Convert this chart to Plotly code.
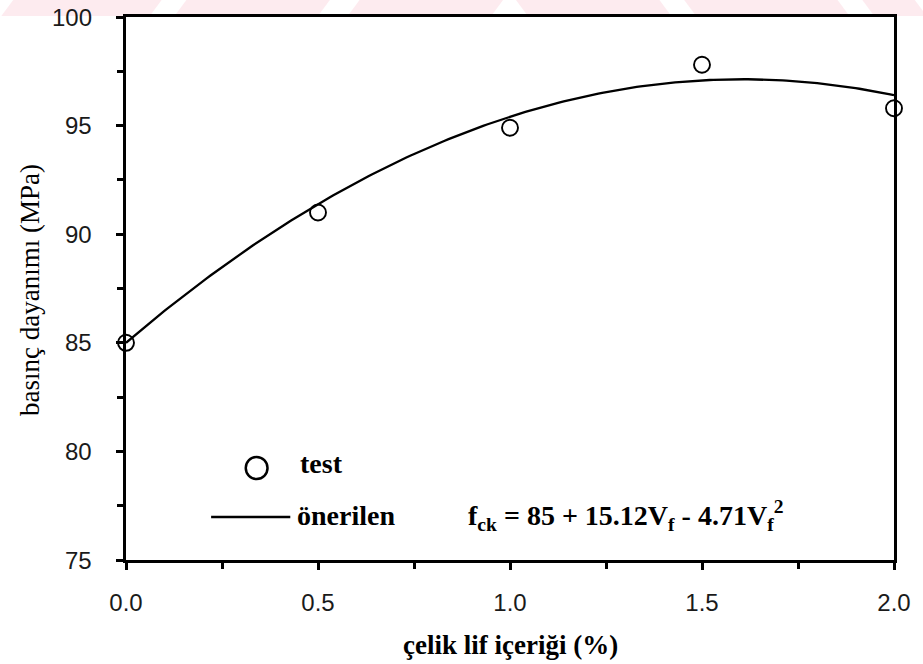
import numpy as np
import plotly.graph_objects as go

# Measured compressive strength vs. steel fibre content
fiber_pct = [0.0, 0.5, 1.0, 1.5, 2.0]
strength_mpa = [85.0, 91.0, 94.9, 97.8, 95.8]

# Proposed fit: f_ck = c0 + c1*Vf + c2*Vf^2
fit_coeffs = [85.0, 15.12, -4.71]

x_ticks = [0.0, 0.5, 1.0, 1.5, 2.0]
x_tick_text = ["0.0", "0.5", "1.0", "1.5", "2.0"]
y_ticks = [75, 80, 85, 90, 95, 100]
y_tick_text = ["75", "80", "85", "90", "95", "100"]

W, H = 923, 664
L, R, T, B = 126, 21, 17, 104
PW, PH = W - L - R, H - T - B


def px(xp):
    return (xp - L) / PW


def py(yp):
    return (H - B - yp) / PH


vf = np.linspace(0.0, 2.0, 201)
fit = fit_coeffs[0] + fit_coeffs[1] * vf + fit_coeffs[2] * vf ** 2

fig = go.Figure()
fig.add_trace(go.Scatter(
    x=vf, y=fit, mode="lines",
    line=dict(color="black", width=2.3),
    name="önerilen", showlegend=False, cliponaxis=False,
))
fig.add_trace(go.Scatter(
    x=fiber_pct, y=strength_mpa, mode="markers",
    marker=dict(symbol="circle-open", size=16, color="black", line=dict(width=1.9)),
    name="test", showlegend=False, cliponaxis=False,
))

tick_font = dict(family="Liberation Sans, Arial, sans-serif", size=24, color="#1a1a1a")
serif = "Times New Roman, Liberation Serif, DejaVu Serif, serif"

fig.update_xaxes(
    range=[0, 2], tickvals=x_ticks, ticktext=x_tick_text,
    showline=True, linewidth=3, linecolor="black", mirror=True,
    ticks="outside", ticklen=7, tickwidth=2.5, tickcolor="black",
    minor=dict(ticks="outside", dtick=0.25, ticklen=6, tickwidth=2.5, tickcolor="black"),
    showgrid=False, zeroline=False, tickfont=tick_font, ticklabelstandoff=12,
)
fig.update_yaxes(
    range=[75, 100], tickvals=y_ticks, showticklabels=False,
    showline=True, linewidth=3, linecolor="black", mirror=True,
    ticks="outside", ticklen=7, tickwidth=2.5, tickcolor="black",
    minor=dict(ticks="outside", dtick=2.5, ticklen=6, tickwidth=2.5, tickcolor="black"),
    showgrid=False, zeroline=False,
)

shapes = []
# faint pink watermark band along the top edge
pink = "rgba(250,210,220,0.45)"
band_top, band_bot = 0, 16
segments = [(0, 150, "/"), (175, 320, "/"), (350, 495, "/"), (520, 665, "\\"), (690, 845, "\\"), (870, 923, "\\")]
for x0, x1, d in segments:
    s = 12
    if d == "/":
        path = f"M {px(x0 + s)},{py(band_top)} L {px(x1 + s)},{py(band_top)} L {px(x1)},{py(band_bot)} L {px(x0)},{py(band_bot)} Z"
    else:
        path = f"M {px(x0)},{py(band_top)} L {px(x1)},{py(band_top)} L {px(x1 + s)},{py(band_bot)} L {px(x0 + s)},{py(band_bot)} Z"
    shapes.append(dict(type="path", xref="paper", yref="paper", path=path,
                       fillcolor=pink, line=dict(width=0), layer="below"))

# legend glyphs
cx, cy, r = 258, 468, 11
shapes.append(dict(type="circle", xref="paper", yref="paper",
                   x0=px(cx - r), x1=px(cx + r), y0=py(cy + r), y1=py(cy - r),
                   line=dict(color="black", width=2.5)))
shapes.append(dict(type="line", xref="paper", yref="paper",
                   x0=px(212), x1=px(292), y0=py(517), y1=py(517),
                   line=dict(color="black", width=2.5)))

# y tick labels, placed at their data values
annotations = [
    dict(text=t, x=px(94), y=v, xref="paper", yref="y",
         xanchor="right", yanchor="middle", showarrow=False, font=tick_font)
    for v, t in zip(y_ticks, y_tick_text)
]

legend_font = dict(family=serif, size=28, color="black")
annotations += [
    dict(text="<b>test</b>", x=px(300), y=py(463), xref="paper", yref="paper",
         xanchor="left", yanchor="middle", showarrow=False, font=legend_font),
    dict(text="<b>önerilen</b>", x=px(297), y=py(515), xref="paper", yref="paper",
         xanchor="left", yanchor="middle", showarrow=False, font=legend_font),
    dict(text="<b>f<sub>ck</sub> = 85 + 15.12V<sub>f</sub> - 4.71V<sub>f</sub><sup>2</sup></b>",
         x=px(470), y=py(515), xref="paper", yref="paper",
         xanchor="left", yanchor="middle", showarrow=False,
         font=dict(family=serif, size=28, color="black")),
    dict(text="<b>çelik lif içeriği (%)</b>", x=px(514), y=py(645), xref="paper", yref="paper",
         xanchor="center", yanchor="middle", showarrow=False,
         font=dict(family=serif, size=27, color="black")),
    dict(text="basınç dayanımı (MPa)", x=px(29), y=py(290), xref="paper", yref="paper",
         xanchor="center", yanchor="middle", showarrow=False, textangle=-90,
         font=dict(family=serif, size=27, color="black")),
]

fig.update_layout(
    width=W, height=H,
    margin=dict(l=L, r=R, t=T, b=B),
    paper_bgcolor="white", plot_bgcolor="white",
    shapes=shapes, annotations=annotations,
    showlegend=False,
)

fig.write_html("out.html")
